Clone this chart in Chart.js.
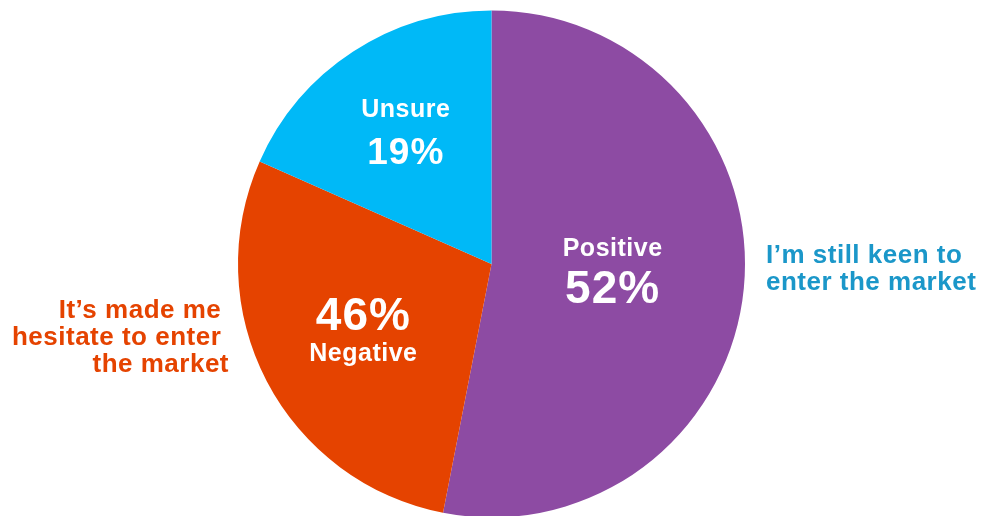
<!DOCTYPE html>
<html>
<head>
<meta charset="utf-8">
<script src="https://cdn.jsdelivr.net/npm/chart.js@4"></script>
<style>
  html, body { margin: 0; padding: 0; background: #fff; overflow: hidden; }
  #wrap { position: relative; width: 985px; height: 519px; }
</style>
</head>
<body>
<div id="wrap"><canvas id="pie"></canvas></div>
<script>
// 数据
const categories = ['Positive', 'Negative', 'Unsure'];
const values = [52, 28, 18];
const percentLabels = ['52%', '46%', '19%'];
const sideTexts = {
  right: ['I\u2019m still keen to', 'enter the market'],
  left: ['It\u2019s made me ', 'hesitate to enter ', 'the market']
};
const sliceColors = ['#8d4ba3', '#e54300', '#00b9f7'];

// 扇区内文字的布局（半径比例、百分比字号、百分比是否在上面）
const inner = [
  { r: 0.48, pctSize: 46, pctFirst: false, dy: -5 },
  { r: 0.57, pctSize: 46, pctFirst: true, dy: 0 },
  { r: 0.62, pctSize: 37, pctFirst: false, dy: 0 }
];

const font = '"Liberation Sans", Arial, Helvetica, sans-serif';

// 自定义标签插件
const labelPlugin = {
  id: 'pieLabels',
  afterDatasetsDraw(chart) {
    const ctx = chart.ctx;
    const arcs = chart.getDatasetMeta(0).data;
    ctx.save();
    ctx.textBaseline = 'alphabetic';
    ctx.textAlign = 'center';
    ctx.fillStyle = '#fff';
    arcs.forEach((arc, i) => {
      const p = arc.getProps(['x', 'y', 'startAngle', 'endAngle', 'outerRadius'], true);
      const mid = (p.startAngle + p.endAngle) / 2;
      const rr = p.outerRadius * inner[i].r;
      const cx = p.x + Math.cos(mid) * rr;
      const cy = p.y + Math.sin(mid) * rr + inner[i].dy;
      const word = 'bold 25px ' + font;
      const pct = 'bold ' + inner[i].pctSize + 'px ' + font;
      if (inner[i].pctFirst) {
        ctx.font = pct;
        ctx.letterSpacing = '1px';
        ctx.fillText(percentLabels[i], cx, cy - 1);
        ctx.font = word;
        ctx.letterSpacing = '0.5px';
        ctx.fillText(categories[i], cx, cy + 30);
      } else {
        ctx.font = word;
        ctx.letterSpacing = '0.5px';
        ctx.fillText(categories[i], cx, cy - 15);
        ctx.font = pct;
        ctx.letterSpacing = '1px';
        ctx.fillText(percentLabels[i], cx, cy + 32);
      }
    });

    // 两侧说明文字
    const a = arcs[0].getProps(['x', 'y', 'outerRadius'], true);
    ctx.font = 'bold 26px ' + font;
    ctx.letterSpacing = '0.5px';
    ctx.textAlign = 'left';
    ctx.fillStyle = '#1b97c9';
    sideTexts.right.forEach((t, k) => {
      ctx.fillText(t, a.x + a.outerRadius + 21, a.y - 1 + k * 27);
    });
    ctx.textAlign = 'right';
    ctx.fillStyle = '#e54300';
    sideTexts.left.forEach((t, k) => {
      ctx.fillText(t, a.x - a.outerRadius - 9, a.y + 54 + k * 27);
    });
    ctx.restore();
  }
};

new Chart(document.getElementById('pie'), {
  type: 'pie',
  data: {
    labels: categories,
    datasets: [{
      data: values,
      backgroundColor: sliceColors,
      borderWidth: 0,
      radius: 253.5
    }]
  },
  options: {
    responsive: true,
    maintainAspectRatio: false,
    animation: false,
    layout: { padding: { left: 0, right: 2, top: 10.5, bottom: 1.5 } },
    plugins: {
      legend: { display: false },
      tooltip: { enabled: false }
    }
  },
  plugins: [labelPlugin]
});
</script>
</body>
</html>
